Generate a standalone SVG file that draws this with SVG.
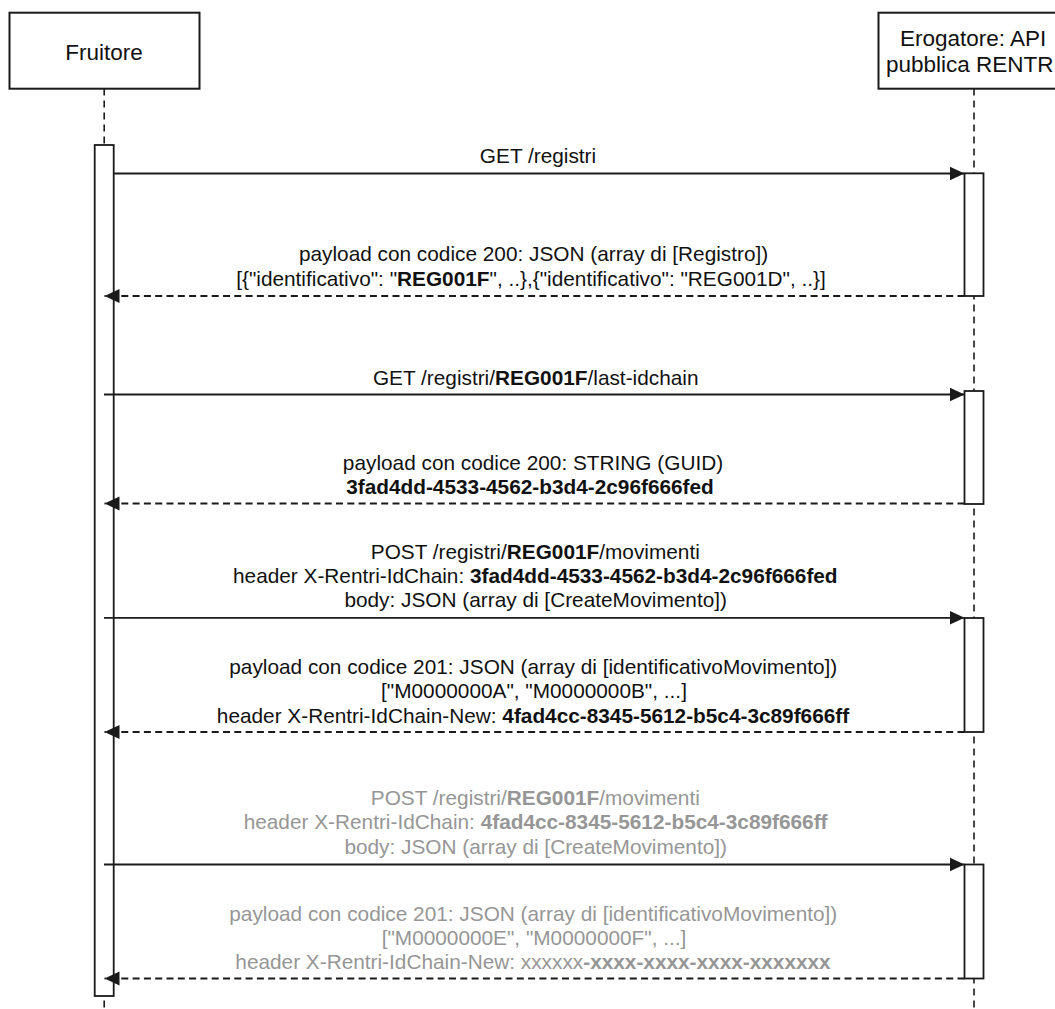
<svg xmlns="http://www.w3.org/2000/svg" width="1055" height="1009" viewBox="0 0 1055 1009">
<style>
.box{fill:#fff;stroke:#1a1a1a;stroke-width:2}
.life{stroke:#1a1a1a;stroke-width:1.6;stroke-dasharray:7 5;fill:none}
.act{fill:#fff;stroke:#1a1a1a;stroke-width:1.8}
.msg{stroke:#1a1a1a;stroke-width:1.8;fill:none;marker-end:url(#ah)}
.ret{stroke:#1a1a1a;stroke-width:1.8;fill:none;stroke-dasharray:7 4.3;marker-end:url(#ah)}
.node{font-family:'Liberation Sans',Arial,Helvetica,sans-serif;font-size:22.5px;fill:#111}
.lbl{font-family:'Liberation Sans',Arial,Helvetica,sans-serif;font-size:20.8px;fill:#111;text-anchor:middle}
.gray{fill:#969696}
.b{font-weight:bold}
.bg{fill:#fff}
</style>
<defs>
<marker id="ah" markerUnits="userSpaceOnUse" markerWidth="17" markerHeight="16" refX="15" refY="7.5" orient="auto">
<path d="M0,0.5 L15,7.5 L0,14.5 Z" fill="#1a1a1a"/>
</marker>
</defs>
<rect width="1055" height="1009" fill="#fff"/>

<g id="fruitore">
<line class="life" x1="104.2" y1="88.5" x2="104.2" y2="1009"/>
<rect class="box" x="9.5" y="12.7" width="190" height="76"/>
<text class="node" x="104" y="60" text-anchor="middle">Fruitore</text>
<rect class="act" x="94.7" y="145" width="19" height="851"/>
</g>

<g id="erogatore">
<line class="life" x1="974" y1="88.5" x2="974" y2="1009"/>
<rect class="box" x="878.5" y="12.7" width="195" height="76"/>
<text class="node" x="900" y="46">Erogatore: API</text>
<text class="node" x="886" y="72">pubblica RENTR</text>
<rect class="act" x="964.5" y="173.3" width="19" height="122.7"/>
<rect class="act" x="964.5" y="391" width="19" height="113"/>
<rect class="act" x="964.5" y="618" width="19" height="114"/>
<rect class="act" x="964.5" y="864.5" width="19" height="114"/>
</g>

<g id="connectors">
<line class="msg" x1="113.7" y1="173.5" x2="964.5" y2="173.5"/>
<line class="ret" x1="964.5" y1="296" x2="104.5" y2="296"/>
<line class="msg" x1="104" y1="394.5" x2="964.5" y2="394.5"/>
<line class="ret" x1="964.5" y1="503.5" x2="104.5" y2="503.5"/>
<line class="msg" x1="104" y1="617.8" x2="964.5" y2="617.8"/>
<line class="ret" x1="964.5" y1="732" x2="104.5" y2="732"/>
<line class="msg" x1="104" y1="864.5" x2="964.5" y2="864.5"/>
<line class="ret" x1="964.5" y1="978.5" x2="104.5" y2="978.5"/>
</g>

<g id="labels">
<text class="lbl" x="538" y="162.5">GET /registri</text>

<rect class="bg" x="234" y="242" width="596" height="50"/>
<text class="lbl" x="533.6" y="261">payload con codice 200: JSON (array di [Registro])</text>
<text class="lbl" x="531" y="285.5">[{"identificativo": "<tspan class="b">REG001F</tspan>", ..},{"identificativo": "REG001D", ..}]</text>

<text class="lbl" x="535.7" y="385">GET /registri/<tspan class="b">REG001F</tspan>/last-idchain</text>

<rect class="bg" x="341" y="451" width="385" height="49"/>
<text class="lbl" x="533" y="469.5">payload con codice 200: STRING (GUID)</text>
<text class="lbl b" x="530" y="493.5">3fad4dd-4533-4562-b3d4-2c96f666fed</text>

<rect class="bg" x="233" y="539.5" width="606" height="74"/>
<text class="lbl" x="535.3" y="558.5">POST /registri/<tspan class="b">REG001F</tspan>/movimenti</text>
<text class="lbl" x="535.3" y="583">header X-Rentri-IdChain: <tspan class="b">3fad4dd-4533-4562-b3d4-2c96f666fed</tspan></text>
<text class="lbl" x="535.7" y="607">body: JSON (array di [CreateMovimento])</text>

<rect class="bg" x="216" y="655" width="635" height="73"/>
<text class="lbl" x="533.3" y="673.5">payload con codice 201: JSON (array di [identificativoMovimento])</text>
<text class="lbl" x="534" y="698">["M0000000A", "M0000000B", ...]</text>
<text class="lbl" x="533" y="722.5">header X-Rentri-IdChain-New: <tspan class="b">4fad4cc-8345-5612-b5c4-3c89f666ff</tspan></text>

<rect class="bg" x="243" y="787" width="586" height="73"/>
<text class="lbl gray" x="535.3" y="805">POST /registri/<tspan class="b">REG001F</tspan>/movimenti</text>
<text class="lbl gray" x="535.6" y="829.4">header X-Rentri-IdChain: <tspan class="b">4fad4cc-8345-5612-b5c4-3c89f666ff</tspan></text>
<text class="lbl gray" x="535.7" y="853.5">body: JSON (array di [CreateMovimento])</text>

<rect class="bg" x="228" y="902" width="611" height="72"/>
<text class="lbl gray" x="533.3" y="920.8">payload con codice 201: JSON (array di [identificativoMovimento])</text>
<text class="lbl gray" x="534" y="944.8">["M0000000E", "M0000000F", ...]</text>
<text class="lbl gray" x="533" y="969">header X-Rentri-IdChain-New: xxxxxx<tspan class="b">-xxxx-xxxx-xxxx-xxxxxxx</tspan></text>
</g>
</svg>
